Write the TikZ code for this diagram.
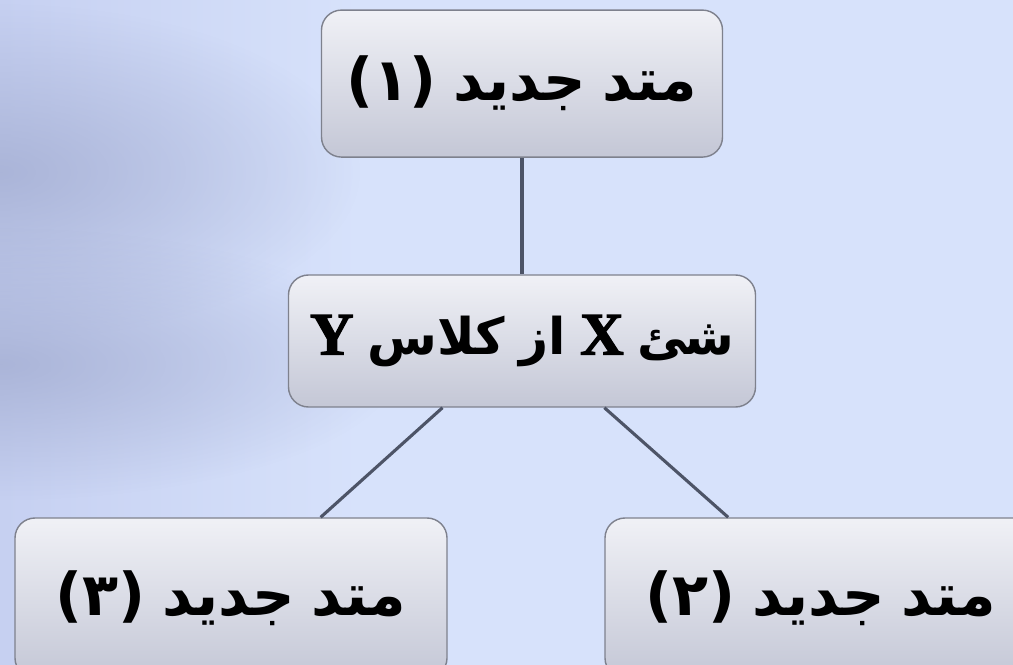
\documentclass[tikz,border=0pt]{standalone}
\usepackage{fontspec}
\newfontfamily\farsi[Script=Arabic, WordSpace=0.8]{DejaVu Sans}
\newfontfamily\latinbold[FakeBold=2]{LiberationSerif-Bold}
\TeXXeTstate=1
\usetikzlibrary{fadings}

\definecolor{bgblue}{HTML}{D7E2FB}
\definecolor{bgleft}{HTML}{C4CEF0}
\definecolor{bgshadow}{HTML}{A6B0D4}
\definecolor{boxtop}{HTML}{F0F1F6}
\definecolor{boxbottom}{HTML}{C4C7D6}
\definecolor{boxline}{HTML}{7E818D}
\definecolor{linkcol}{HTML}{4D5467}

% soft spot for the shadows on the left
\tikzfading[name=softspot, inner color=transparent!15, outer color=transparent!100]

\newcommand{\faline}[1]{\beginR #1\endR}
\newcommand{\lat}[1]{{\latinbold\mdseries\fontsize{43}{48}\selectfont #1}}

\tikzset{
  method/.style={draw=boxline, line width=1pt, rounded corners=0.5cm,
    top color=boxtop, bottom color=boxbottom, inner sep=0pt,
    minimum width=10.8cm, minimum height=4cm,
    font=\farsi\bfseries\fontsize{42}{50}\selectfont},
  link/.style={draw=linkcol, line width=2.2pt},
}

\begin{document}
\begin{tikzpicture}
    \useasboundingbox (0,0) rectangle (25.325,16.6);
    \clip (0,0) rectangle (25.325,16.6);

    % background
    \shade[left color=bgleft, right color=bgblue] (-1,-1) rectangle (9,17.6);
    \fill[bgblue] (9,-1) rectangle (26.3,17.6);
    \fill[bgshadow, path fading=softspot] (0,12.3) ellipse (9 and 4.2);
    \fill[bgshadow, path fading=softspot] (0,7.5) ellipse (10 and 3.4);

    % the object and its methods
    \node[method, minimum width=10.025cm, minimum height=3.675cm] (m1) at (13.05,14.51) {\faline{متد جدید (۱)}};
    \node[method, minimum width=11.675cm, minimum height=3.3cm,
      font=\farsi\bfseries\fontsize{36}{44}\selectfont] (obj) at (13.05,8.075) {\faline{شئ \lat{X} از کلاس \lat{Y}}};
    \node[method] (m3) at (5.775,1.65) {\faline{متد جدید (۳)}};
    \node[method] (m2) at (20.525,1.65) {\faline{متد جدید (۲)}};

    % links
    \draw[link] (m1) -- (obj);
    \draw[link] (obj.220) -- (m3.42.6);
    \draw[link] (obj.321) -- (m2.139.3);
\end{tikzpicture}
\end{document}
